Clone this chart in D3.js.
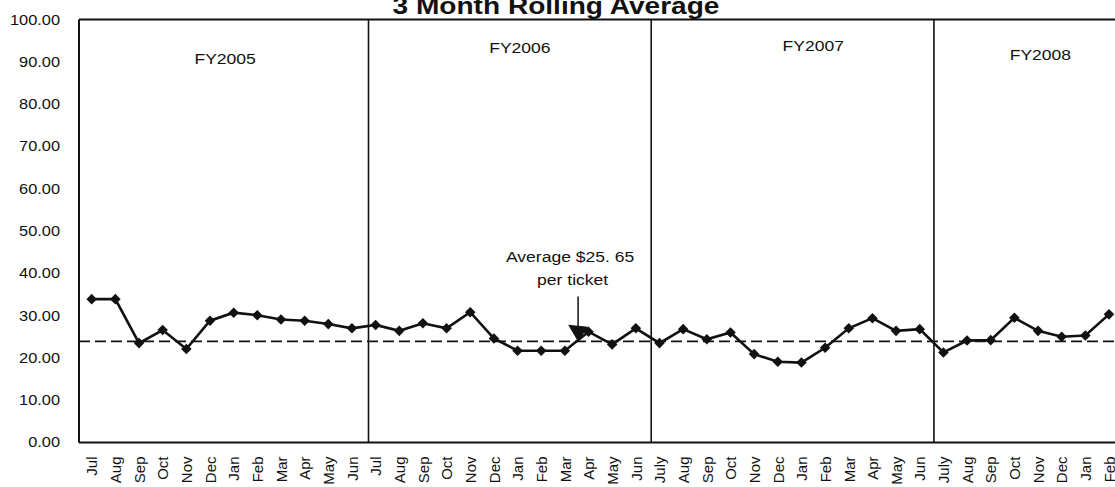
<!DOCTYPE html>
<html><head><meta charset="utf-8">
<script src="https://cdn.jsdelivr.net/npm/d3@7"></script>
<style>html,body{margin:0;padding:0;background:#fff;}svg{display:block;}text{font-family:"Liberation Sans",Arial,sans-serif;fill:#111;}</style>
</head><body>
<svg id="c" width="1115" height="487"></svg>
<script>
// ---- data ----
const xLabels = ["Jul","Aug","Sep","Oct","Nov","Dec","Jan","Feb","Mar","Apr","May","Jun",
                 "Jul","Aug","Sep","Oct","Nov","Dec","Jan","Feb","Mar","Apr","May","Jun",
                 "July","Aug","Sep","Oct","Nov","Dec","Jan","Feb","Mar","Apr","May","Jun",
                 "July","Aug","Sep","Oct","Nov","Dec","Jan","Feb"];
const values = [33.9,33.9,23.5,26.6,22.1,28.8,30.7,30.1,29.1,28.8,28.0,27.0,
                27.8,26.4,28.2,27.0,30.8,24.6,21.7,21.7,21.7,26.2,23.2,27.0,
                23.5,26.8,24.4,26.0,20.9,19.1,18.9,22.4,27.0,29.4,26.4,26.8,
                21.3,24.1,24.2,29.5,26.4,25.0,25.3,30.3];
const yTicks = [0,10,20,30,40,50,60,70,80,90,100];
const fyLabels = ["FY2005","FY2006","FY2007","FY2008"];
const fyLabelIdx = [5.64,18.1,30.5,40.1];
const fyLabelVal = [90.7,93.3,93.8,91.6];
const dividerIdx = [11.7,23.65,35.6];
const avgLine = 23.9;
const noteLines = ["Average $25. 65","per ticket"];
const noteIdx = [20.22,20.33];
const noteVal = [42.7,37.2];
const arrowIdx = 20.56, arrowFrom = 34.5, arrowTo = 23.8;
const title = "3 Month Rolling Average";

// ---- layout ----
const SX = 1.17; // horizontal stretch of the scanned text
const svg = d3.select("#c");
const left = 79, right = 1115;
const y = d3.scaleLinear().domain([0,100]).range([442.5,19.6]);
const x = d3.scalePoint().domain(d3.range(values.length)).range([91.7,1109]);
const xi = d3.scaleLinear().domain([0, values.length-1]).range([91.7,1109]);

function stext(g, str, px, py, size, anchor, weight){
  return g.append("text").attr("transform",`translate(${px},${py}) scale(${SX},1)`)
    .attr("text-anchor",anchor).attr("font-size",size).attr("font-weight",weight||"normal").text(str);
}

// title
stext(svg, title, 556, 14, 24, "middle", "bold");

// frame lines
svg.append("line").attr("x1",left).attr("x2",right).attr("y1",y(100)).attr("y2",y(100)).attr("stroke","#111").attr("stroke-width",2);
svg.append("line").attr("x1",left).attr("x2",right).attr("y1",y(0)).attr("y2",y(0)).attr("stroke","#111").attr("stroke-width",2);
svg.append("line").attr("x1",left).attr("x2",left).attr("y1",y(100)).attr("y2",y(0)).attr("stroke","#111").attr("stroke-width",2);

// y axis labels
const ya = svg.append("g").attr("transform",`translate(${left},0)`)
  .call(d3.axisLeft(y).tickValues(yTicks).tickFormat(d=>d.toFixed(2)).tickSize(0));
ya.select(".domain").remove();
ya.selectAll(".tick text").attr("x",-19/SX).attr("transform",`scale(${SX},1)`)
  .attr("font-size",14).attr("font-family",null).style("fill","#111");

// x axis labels
const xa = svg.append("g").attr("transform",`translate(0,${y(0)})`)
  .call(d3.axisBottom(x).tickFormat(i=>xLabels[i]).tickSize(0));
xa.select(".domain").remove();
xa.selectAll(".tick text").attr("transform","rotate(-90)").attr("text-anchor","end")
  .attr("x",-14).attr("y",0).attr("dy","0.35em").attr("font-size",15).attr("font-family",null).style("fill","#111");

// FY dividers
svg.selectAll(".div").data(dividerIdx).join("line")
  .attr("x1",d=>xi(d)).attr("x2",d=>xi(d)).attr("y1",y(100)).attr("y2",y(0))
  .attr("stroke","#111").attr("stroke-width",1.6);

// FY labels
fyLabels.forEach((s,i)=>{ stext(svg, s, xi(fyLabelIdx[i]), y(fyLabelVal[i])+5, 15, "middle"); });

// average dashed line
svg.append("line").attr("x1",left).attr("x2",right).attr("y1",y(avgLine)).attr("y2",y(avgLine))
  .attr("stroke","#111").attr("stroke-width",1.8).attr("stroke-dasharray","11,5");

// series line
svg.append("path").datum(values)
  .attr("d", d3.line().x((d,i)=>x(i)).y(d=>y(d)))
  .attr("fill","none").attr("stroke","#111").attr("stroke-width",2.6);
svg.selectAll(".pt").data(values).join("path")
  .attr("d", d3.symbol().type(d3.symbolSquare).size(56))
  .attr("transform",(d,i)=>`translate(${x(i)},${y(d)}) rotate(45)`)
  .attr("fill","#111");

// annotation
noteLines.forEach((s,i)=>{ stext(svg, s, xi(noteIdx[i]), y(noteVal[i]), 15, "middle"); });
const ax = xi(arrowIdx);
svg.append("line").attr("x1",ax).attr("x2",ax).attr("y1",y(arrowFrom)).attr("y2",y(arrowTo)-15)
  .attr("stroke","#111").attr("stroke-width",1.5);
svg.append("path").attr("d",`M${ax-10},${y(arrowTo)-17}L${ax+10},${y(arrowTo)-15}L${ax},${y(arrowTo)}Z`).attr("fill","#111");
</script>
</body></html>
